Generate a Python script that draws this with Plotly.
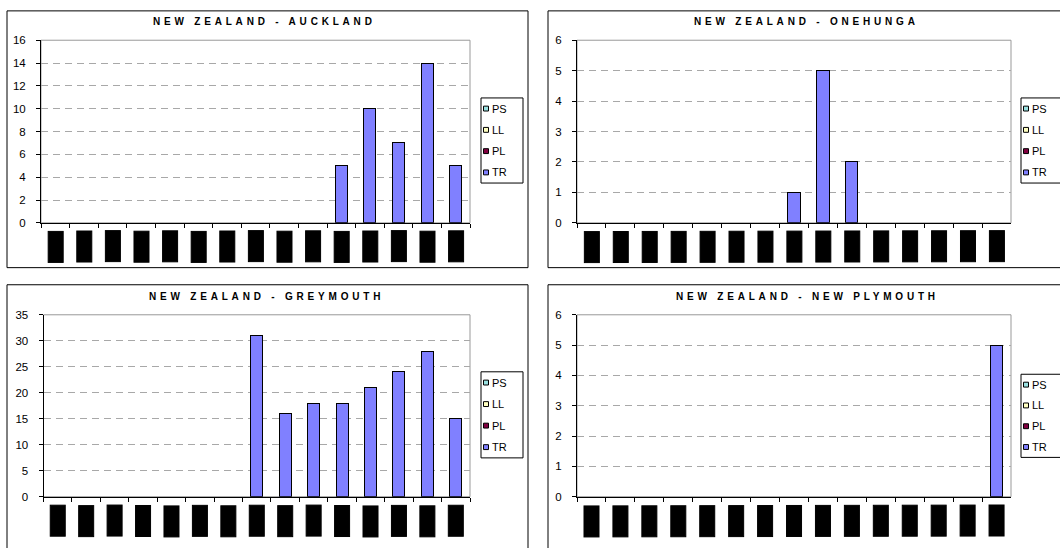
import plotly.graph_objects as go

# ---------------- data ----------------
categories = ["1990", "1991", "1992", "1993", "1994", "1995", "1996", "1997",
              "1998", "1999", "2000", "2001", "2002", "2003", "2004"]
series_names = ["PS", "LL", "PL", "TR"]

ps_zero = [0, 0, 0, 0, 0, 0, 0, 0, 0, 0, 0, 0, 0, 0, 0]
ll_zero = [0, 0, 0, 0, 0, 0, 0, 0, 0, 0, 0, 0, 0, 0, 0]
pl_zero = [0, 0, 0, 0, 0, 0, 0, 0, 0, 0, 0, 0, 0, 0, 0]

auckland_tr = [0, 0, 0, 0, 0, 0, 0, 0, 0, 0, 5, 10, 7, 14, 5]
onehunga_tr = [0, 0, 0, 0, 0, 0, 0, 1, 5, 2, 0, 0, 0, 0, 0]
greymouth_tr = [0, 0, 0, 0, 0, 0, 0, 31, 16, 18, 18, 21, 24, 28, 15]
newplymouth_tr = [0, 0, 0, 0, 0, 0, 0, 0, 0, 0, 0, 0, 0, 0, 5]

titles = ["NEW ZEALAND - AUCKLAND", "NEW ZEALAND - ONEHUNGA",
          "NEW ZEALAND - GREYMOUTH", "NEW ZEALAND - NEW PLYMOUTH"]
y_max = [16, 6, 35, 6]
y_dtick = [2, 1, 5, 1]

# ---------------- styling ----------------
W, H = 1060, 548
colors = {"PS": "#99E0E0", "LL": "#FFFFC0", "PL": "#800040", "TR": "#8080FF"}
FONT = "Arial, Liberation Sans, sans-serif"

def px(v):
    return v / W

def py(v):
    return 1 - v / H

# panel geometry in pixels
panels = [
    dict(plot=(41, 470, 35, 221.7), frame=(7, 528, 5, 267.5), leg=(481, 523, 94, 181), title=(264, 16), lab=246),
    dict(plot=(577, 1011, 35, 221.7), frame=(548, 1070, 5, 267.5), leg=(1021, 1063, 94, 181), title=(806, 16), lab=246),
    dict(plot=(43.5, 470, 315.7, 501.7), frame=(7, 528, 285, 560), leg=(481, 523, 374, 462), title=(266, 297), lab=526.5),
    dict(plot=(577, 1011, 315.7, 501.7), frame=(548, 1070, 285, 560), leg=(1021, 1063, 376.5, 461.5), title=(807, 297), lab=526.5),
]

series_data = [
    [ps_zero, ll_zero, pl_zero, auckland_tr],
    [ps_zero, ll_zero, pl_zero, onehunga_tr],
    [ps_zero, ll_zero, pl_zero, greymouth_tr],
    [ps_zero, ll_zero, pl_zero, newplymouth_tr],
]

fig = go.Figure()
shapes = []
annotations = []
layout = {}

for i, p in enumerate(panels):
    k = "" if i == 0 else str(i + 1)
    xa, ya = "x" + k, "y" + k
    # bars
    for name, vals in zip(series_names, series_data[i]):
        fig.add_trace(go.Bar(
            x=categories, y=vals, name=name, xaxis=xa, yaxis=ya,
            marker=dict(color=colors[name],
                        line=dict(color="black", width=[1 if v > 0 else 0 for v in vals])),
            showlegend=False, hoverinfo="x+y+name"))

    l, r, t, b = p["plot"]
    layout["xaxis" + k] = dict(
        domain=[px(l), px(r)], anchor=ya, type="category",
        range=[-0.5, len(categories) - 0.5],
        showline=True, linecolor="black", linewidth=1,
        ticks="outside", tickson="boundaries", ticklen=4, tickcolor="black",
        showticklabels=False, showgrid=False, zeroline=False, fixedrange=True)
    layout["yaxis" + k] = dict(
        domain=[py(b), py(t)], anchor=xa, range=[0, y_max[i]], dtick=y_dtick[i],
        showline=True, linecolor="black", linewidth=1,
        ticks="outside", ticklen=4, tickcolor="black", ticklabelstandoff=8,
        tickfont=dict(family=FONT, size=11.5, color="black"),
        showgrid=True, gridcolor="#A8A8A8", gridwidth=1, griddash="7px,5px",
        zeroline=False, fixedrange=True)

    # panel frame
    fl, fr, ft, fb = p["frame"]
    shapes.append(dict(type="rect", xref="paper", yref="paper",
                       x0=px(fl), x1=px(fr), y0=py(fb), y1=py(ft),
                       line=dict(color="black", width=1), fillcolor="rgba(0,0,0,0)",
                       layer="below"))
    # plot area border (grey)
    shapes.append(dict(type="rect", xref=xa + " domain", yref=ya + " domain",
                       x0=0, x1=1, y0=0, y1=1,
                       line=dict(color="#999999", width=1), layer="below"))

    # legend box
    gl, gr, gt, gb = p["leg"]
    shapes.append(dict(type="rect", xref="paper", yref="paper",
                       x0=px(gl), x1=px(gr), y0=py(gb), y1=py(gt),
                       line=dict(color="black", width=1), fillcolor="white",
                       layer="above"))
    row_h = (gb - gt) / len(series_names)
    for j, name in enumerate(series_names):
        cy = gt + row_h * (j + 0.5)
        shapes.append(dict(type="rect", xref="paper", yref="paper",
                           x0=px(gl + 2.5), x1=px(gl + 7.5), y0=py(cy + 2.5), y1=py(cy - 2.5),
                           line=dict(color="black", width=1), fillcolor=colors[name],
                           layer="above"))
        annotations.append(dict(
            text=name, xref="paper", yref="paper", x=px(gl + 9), y=py(cy),
            xanchor="left", yanchor="middle", showarrow=False,
            font=dict(family=FONT, size=11, color="black")))

    # title
    tx, ty = p["title"]
    annotations.append(dict(
        text=f'<span style="letter-spacing:3.8px">{titles[i]}</span>',
        xref="paper", yref="paper", x=px(tx), y=py(ty),
        xanchor="center", yanchor="middle", showarrow=False,
        font=dict(family=FONT, size=10, color="black", weight="bold")))

    # category labels (rendered as solid black blocks, as in the reference)
    for j, c in enumerate(categories):
        annotations.append(dict(
            text=c, xref=xa, yref="paper", x=j, y=py(p["lab"]),
            xanchor="center", yanchor="middle", showarrow=False,
            textangle=-90, width=30, height=14, borderpad=0, borderwidth=1,
            bordercolor="black", bgcolor="black",
            font=dict(family=FONT, size=10, color="black")))

fig.update_layout(
    width=W, height=H, margin=dict(l=0, r=0, t=0, b=0),
    paper_bgcolor="white", plot_bgcolor="white",
    barmode="stack", bargap=0.58, showlegend=False,
    shapes=shapes, annotations=annotations,
    font=dict(family=FONT, color="black"),
    **layout)

fig.write_html(
    "out.html",
    config={"displayModeBar": False},
    post_script=(
        "var d=document.getElementById('{plot_id}');"
        "d.style.position='fixed';d.style.top='0';d.style.left='0';"
        "document.body.style.margin='0';"
        "document.body.style.overflow='hidden';"
        "document.documentElement.style.overflow='hidden';"
    ))
